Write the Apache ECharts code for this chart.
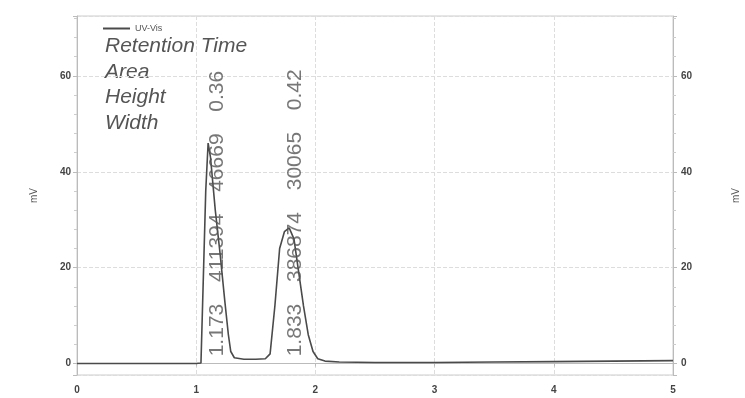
<!DOCTYPE html>
<html>
<head>
<meta charset="utf-8">
<script src="https://cdn.jsdelivr.net/npm/echarts@6/dist/echarts.min.js"></script>
<style>
  html, body { margin: 0; padding: 0; background: #fff; }
  #chart { width: 745px; height: 398px; }
</style>
</head>
<body>
<div id="chart"></div>
<script>
// chromatogram trace, [time (min), signal (mV)]
const traceData = [
  [0, 0], [0.5, 0], [1.0, 0], [1.04, 0.1], [1.06, 18], [1.08, 36], [1.10, 46],
  [1.12, 43], [1.16, 32], [1.20, 23], [1.24, 13], [1.27, 6], [1.29, 2.5],
  [1.32, 1.2], [1.40, 0.9], [1.50, 0.9], [1.58, 1.0], [1.62, 2], [1.66, 12],
  [1.70, 24], [1.74, 27.5], [1.78, 28.3], [1.82, 26], [1.86, 19], [1.90, 12],
  [1.94, 6], [1.98, 2.5], [2.02, 1], [2.08, 0.5], [2.2, 0.3], [2.5, 0.2],
  [3.0, 0.2], [3.5, 0.3], [4.0, 0.4], [4.5, 0.5], [5.0, 0.6]
];
// peak table: retention time, area, height, width
const peakTimes = [1.173, 1.833];
const peakAreas = ['411394', '386874'];
const peakHeights = ['46669', '30065'];
const peakWidths = ['0.36', '0.42'];
const infoLines = ['Retention Time', 'Area', 'Height', 'Width'];

const textGray = '#555';
const axisGray = '#bbb';
const gap = '   \u2009';

const peakLabels = peakTimes.map((t, i) => ({
  value: [t, 1.5],
  label: {
    formatter: t.toFixed(3) + gap + peakAreas[i] + gap + peakHeights[i] + gap + peakWidths[i]
  }
}));

const chart = echarts.init(document.getElementById('chart'));
const yCommon = {
  type: 'value',
  min: -2.4,
  max: 72.5,
  splitNumber: 4,
  name: 'mV',
  nameLocation: 'middle',
  nameRotate: 90,
  nameTextStyle: { color: textGray, fontSize: 10, fontFamily: 'Liberation Sans' },
  axisLine: { show: true, lineStyle: { color: axisGray } },
  axisTick: { show: true, length: 4, lineStyle: { color: axisGray } },
  minorTick: { show: true, splitNumber: 5, length: 3, lineStyle: { color: '#ccc' } },
  axisLabel: {
    color: '#444', fontSize: 10, fontFamily: 'Liberation Sans', fontWeight: 'bold',
    showMinLabel: false, showMaxLabel: false, margin: 6
  }
};

chart.setOption({
  animation: false,
  grid: {
    left: 77, right: 72, top: 16, bottom: 23,
    outerBoundsMode: 'none',
    show: true, borderColor: '#ccc', borderWidth: 1
  },
  legend: {
    left: 98, top: 19,
    icon: 'rect', itemWidth: 27, itemHeight: 2, itemGap: 6,
    data: ['UV-Vis'],
    textStyle: { color: textGray, fontSize: 9, fontFamily: 'Liberation Sans' }
  },
  xAxis: {
    type: 'value', min: 0, max: 5, interval: 1,
    axisLine: { lineStyle: { color: axisGray } },
    axisTick: { show: true, length: 3, lineStyle: { color: axisGray } },
    axisLabel: { color: '#444', fontSize: 10, fontFamily: 'Liberation Sans', fontWeight: 'bold', margin: 10 },
    splitLine: { show: true, lineStyle: { color: '#ddd', type: 'dashed' } }
  },
  yAxis: [
    Object.assign({}, yCommon, {
      position: 'left', nameGap: 38,
      splitLine: { show: true, lineStyle: { color: '#ddd', type: 'dashed' } }
    }),
    Object.assign({}, yCommon, {
      position: 'right', nameGap: 58,
      splitLine: { show: false },
      axisLabel: Object.assign({}, yCommon.axisLabel, { margin: 8 })
    })
  ],
  graphic: infoLines.map((s, i) => ({
    type: 'text',
    left: 105,
    top: 36 + i * 25.5,
    style: {
      text: s,
      fill: textGray,
      font: 'italic 21px "Liberation Sans"'
    }
  })),
  series: [
    {
      name: 'UV-Vis',
      type: 'line',
      data: traceData,
      symbol: 'none',
      lineStyle: { color: '#4a4a4a', width: 1.6 },
      itemStyle: { color: '#4a4a4a' },
      z: 3
    },
    {
      type: 'scatter',
      data: peakLabels,
      symbolSize: 0,
      silent: true,
      label: {
        show: true,
        position: 'inside',
        rotate: 90,
        align: 'left',
        verticalAlign: 'middle',
        color: textGray,
        fontSize: 21,
        fontFamily: 'Liberation Sans'
      },
      z: 4
    }
  ]
});
</script>
</body>
</html>
